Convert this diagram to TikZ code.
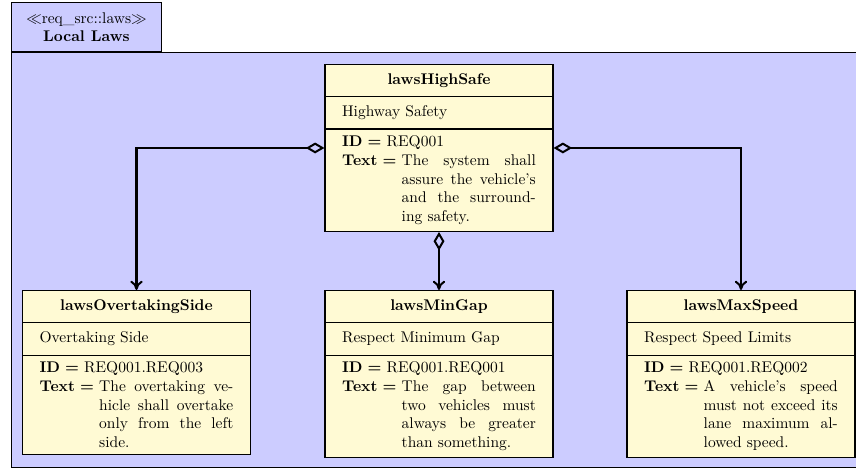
\documentclass[tikz,border=0pt]{standalone}
\usepackage{amsmath}
\usetikzlibrary{shapes.multipart,arrows.meta}

\definecolor{classfill}{RGB}{255,250,212}
\definecolor{pkgfill}{RGB}{204,204,255}

% requirement name (centred) and attributes: id and justified text
\newcommand{\reqname}[1]{\hbox to\hsize{\hfil\strut\textbf{#1}\hfil}}
\newcommand{\reqattr}[2]{\textbf{ID =} #1\\
  \textbf{Text =} \parbox[t]{86.5pt}{\leftskip=0pt\rightskip=0pt
    \spaceskip=0pt\xspaceskip=0pt\parfillskip=0pt plus 1fil
    \tolerance=10000\hbadness=10000 #2}}

\begin{document}
\begin{tikzpicture}[x=0.645pt,y=-0.645pt,
  req/.style={rectangle split, rectangle split parts=3, draw=black, thick,
    fill=classfill, text width=125pt, inner xsep=11pt, inner ysep=4pt,
    align=left, anchor=north},
  pkgtab/.style={draw=black, semithick, fill=pkgfill, align=center,
    minimum width=96.75pt, minimum height=31.6pt, anchor=south west},
  agg/.style={line width=1.3pt,
    {Diamond[open,length=12pt,width=7pt]}-{To[length=6pt,width=8pt]}}]
\useasboundingbox (0,0) rectangle (856,470);

% package
\draw[semithick, fill=pkgfill] (11,52) rectangle (868,467);
\node[pkgtab] (lawstab) at (11,52) {$\ll$req\_src::laws$\gg$\\ \textbf{Local Laws}};

% requirements
\node[req] (HighSafe) at (439,64) {\reqname{lawsHighSafe}
  \nodepart{two}\strut Highway Safety
  \nodepart{three}\reqattr{REQ001}{The system shall\linebreak assure the vehicle's\linebreak and the surround-\linebreak ing safety.}};
\node[req] (OvertakingSide) at (136.5,290) {\reqname{lawsOvertakingSide}
  \nodepart{two}\strut Overtaking Side
  \nodepart{three}\reqattr{REQ001.REQ003}{The overtaking ve-\linebreak hicle shall overtake\linebreak only from the left\linebreak side.}};
\node[req] (MinGap) at (439,290) {\reqname{lawsMinGap}
  \nodepart{two}\strut Respect Minimum Gap
  \nodepart{three}\reqattr{REQ001.REQ001}{The gap between\linebreak two vehicles must\linebreak always be greater\linebreak than something.}};
\node[req] (MaxSpeed) at (741,290) {\reqname{lawsMaxSpeed}
  \nodepart{two}\strut Respect Speed Limits
  \nodepart{three}\reqattr{REQ001.REQ002}{A vehicle's speed\linebreak must not exceed its\linebreak lane maximum al-\linebreak lowed speed.}};

% aggregations
\draw[agg] (HighSafe.west) -| (OvertakingSide.north);
\draw[agg] (HighSafe.south) -- (MinGap.north);
\draw[agg] (HighSafe.east) -| (MaxSpeed.north);
\end{tikzpicture}
\end{document}
